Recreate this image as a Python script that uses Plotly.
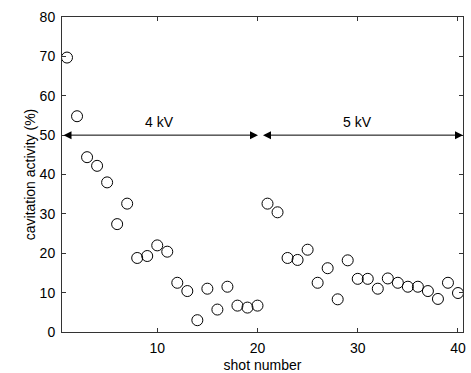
import plotly.graph_objects as go

shots = list(range(1, 41))
activity = [69.7, 54.8, 44.4, 42.2, 38.0, 27.4, 32.6, 18.8, 19.3, 22.0,
            20.4, 12.5, 10.4, 3.0, 11.0, 5.7, 11.5, 6.7, 6.2, 6.7,
            32.6, 30.4, 18.8, 18.3, 20.9, 12.5, 16.2, 8.3, 18.2, 13.5,
            13.5, 11.0, 13.6, 12.5, 11.5, 11.5, 10.4, 8.4, 12.5, 9.9]

x_range = [0.5, 40.5]
y_range = [0, 80]
x_ticks = [10, 20, 30, 40]
y_ticks = [0, 10, 20, 30, 40, 50, 60, 70, 80]

arrow_level = 50
segments = [
    {"label": "4 kV", "start": 0.5, "end": 20.05, "text_x": 10.2},
    {"label": "5 kV", "start": 20.4, "end": 40.5, "text_x": 30.0},
]

FONT = "Liberation Sans, Arial, sans-serif"

fig = go.Figure()
fig.add_trace(go.Scatter(
    x=shots, y=activity, mode="markers",
    marker=dict(symbol="circle-open", size=11, color="black", line=dict(width=1, color="black")),
    showlegend=False, cliponaxis=False,
))

for seg in segments:
    fig.add_annotation(
        x=seg["end"], y=arrow_level, ax=seg["start"], ay=arrow_level,
        xref="x", yref="y", axref="x", ayref="y",
        showarrow=True, arrowhead=2, startarrowhead=2, arrowside="end+start",
        arrowsize=1.6, startarrowsize=1.6, arrowwidth=1, arrowcolor="black", text="",
    )
    fig.add_annotation(
        x=seg["text_x"], y=arrow_level, xref="x", yref="y", text=seg["label"],
        showarrow=False, yanchor="bottom", yshift=3,
        font=dict(family=FONT, size=14, color="black"),
    )

axis_common = dict(
    showgrid=False, zeroline=False, showline=True, linecolor="#333333", linewidth=1,
    mirror="ticks", ticks="inside", ticklen=4, tickcolor="#333333", automargin=False,
    tickfont=dict(family=FONT, size=14, color="black"),
)

fig.update_xaxes(range=x_range, tickvals=x_ticks, ticklabelstandoff=3,
                 title=dict(text="shot number", standoff=5, font=dict(family=FONT, size=14, color="black")),
                 **axis_common)
fig.update_yaxes(range=y_range, tickvals=y_ticks, ticklabelstandoff=3,
                 title=dict(text="cavitation activity (%)", standoff=0, font=dict(family=FONT, size=14, color="black")),
                 **axis_common)

fig.update_layout(
    width=471, height=373,
    margin=dict(l=62, r=8, t=17, b=41),
    plot_bgcolor="white", paper_bgcolor="white",
)

fig.write_html("out.html")
